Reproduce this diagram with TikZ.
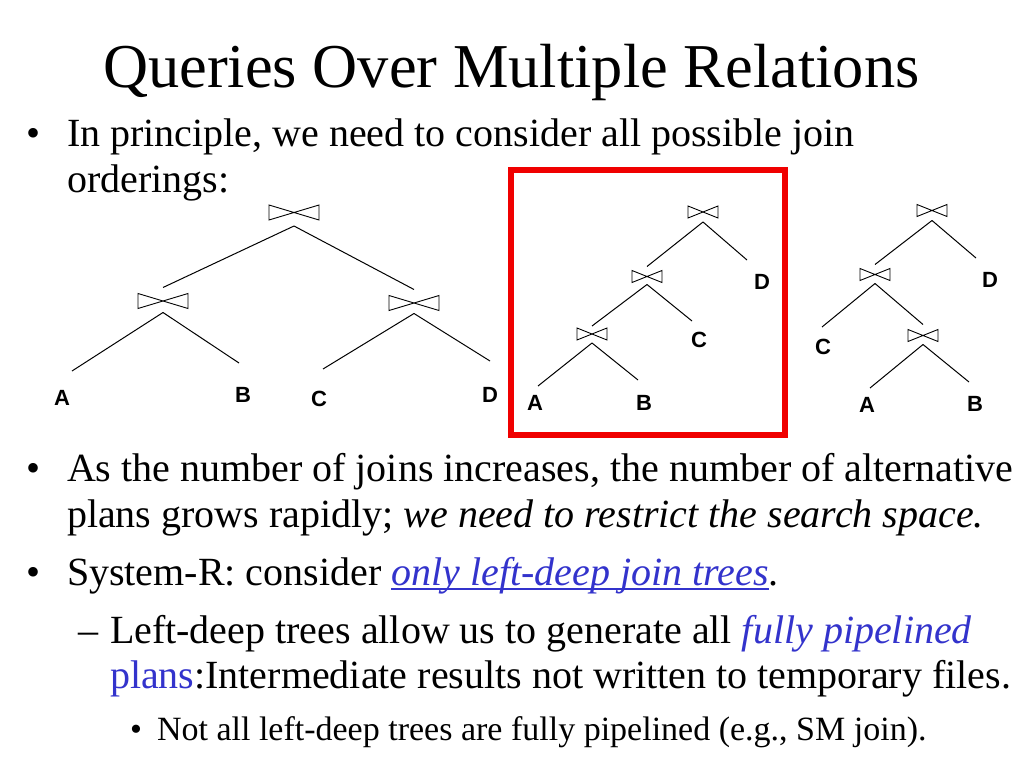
\documentclass[tikz,border=0pt]{standalone}
\usepackage{fontspec}
\setmainfont{Liberation Serif}
\newfontfamily\lblfont{Liberation Sans}
\definecolor{linkblue}{RGB}{51,51,204}
\definecolor{boxred}{RGB}{240,0,0}
\begin{document}
\begin{tikzpicture}[x=1pt,y=-1pt,
  txt/.style={anchor=base west,inner sep=0pt,outer sep=0pt,font=\fontsize{40}{48}\selectfont},
  subtxt/.style={anchor=base west,inner sep=0pt,outer sep=0pt,font=\fontsize{34}{40}\selectfont},
  bigjoin/.style={minimum width=50pt,minimum height=15pt,inner sep=0pt,outer sep=0pt},
  smalljoin/.style={minimum width=30pt,minimum height=12pt,inner sep=0pt,outer sep=0pt},
  leaf/.style={inner sep=0pt,font=\lblfont\bfseries\fontsize{22}{26}\selectfont},
  edge/.style={line width=1pt,black},
  tie/.style={line width=0.9pt,black,line join=miter}]
\useasboundingbox (0,0) rectangle (1024,768);
\fill[white] (0,0) rectangle (1024,768);

% title
\node[anchor=base west,inner sep=0pt,font=\fontsize{62.4}{70}\selectfont] (title) at (103,87) {Queries Over Multiple Relations};

% bullet 1
\node[txt] (b1) at (27,146) {•};
\node[txt] (l1) at (67,146) {In principle, we need to consider all possible join};
\node[txt] (l2) at (67,192) {orderings:};

% ---------- tree 1 (bushy) ----------
\node[bigjoin] (t1r) at (294,212.5) {};
\node[bigjoin] (t1a) at (163,301) {};
\node[bigjoin] (t1b) at (414,303) {};
\coordinate (t1A) at (72,371);
\coordinate (t1B) at (239,363);
\coordinate (t1C) at (323,369);
\coordinate (t1D) at (490,361);
\node[leaf] (A1) at (62,398) {A};
\node[leaf] (B1) at (243,395) {B};
\node[leaf] (C1) at (319,399) {C};
\node[leaf] (D1) at (490,395) {D};
\draw[edge] ([yshift=-6pt]t1r.south) -- ([yshift=6pt]t1a.north);
\draw[edge] ([yshift=-6pt]t1r.south) -- ([yshift=6pt]t1b.north);
\draw[edge] ([yshift=-4pt]t1a.south) -- (t1A);
\draw[edge] ([yshift=-4pt]t1a.south) -- (t1B);
\draw[edge] ([yshift=-3pt]t1b.south) -- (t1C);
\draw[edge] ([yshift=-3pt]t1b.south) -- (t1D);

% ---------- tree 2 (left-deep, boxed) ----------
\draw[boxred,line width=6pt] (511,170) rectangle (785,435);
\node[smalljoin] (t2r) at (703,212) {};
\node[smalljoin] (t2m) at (647,276.5) {};
\node[smalljoin] (t2l) at (592,334) {};
\coordinate (t2D) at (747,260);
\coordinate (t2C) at (692,321);
\coordinate (t2A) at (538,386);
\coordinate (t2B) at (638,380);
\node[leaf] (D2) at (762,282) {D};
\node[leaf] (C2) at (699,340) {C};
\node[leaf] (A2) at (535,403) {A};
\node[leaf] (B2) at (644,403) {B};
\draw[edge] ([yshift=-4pt]t2r.south) -- ([yshift=4pt]t2m.north);
\draw[edge] ([yshift=-4pt]t2r.south) -- (t2D);
\draw[edge] ([yshift=-2pt]t2m.south) -- ([yshift=2pt]t2l.north);
\draw[edge] ([yshift=-2pt]t2m.south) -- (t2C);
\draw[edge] ([yshift=-3pt]t2l.south) -- (t2A);
\draw[edge] ([yshift=-3pt]t2l.south) -- (t2B);

% ---------- tree 3 ----------
\node[smalljoin] (t3r) at (932,210.5) {};
\node[smalljoin] (t3m) at (875,274.5) {};
\node[smalljoin] (t3l) at (923,335.5) {};
\coordinate (t3D) at (976,258);
\coordinate (t3C) at (822,327);
\coordinate (t3A) at (870,388);
\coordinate (t3B) at (969,382);
\node[leaf] (D3) at (990,280) {D};
\node[leaf] (C3) at (823,347) {C};
\node[leaf] (A3) at (867,405) {A};
\node[leaf] (B3) at (975,404) {B};
\draw[edge] ([yshift=-4pt]t3r.south) -- ([yshift=4pt]t3m.north);
\draw[edge] ([yshift=-4pt]t3r.south) -- (t3D);
\draw[edge] ([yshift=-3pt]t3m.south) -- (t3C);
\draw[edge] ([yshift=-3pt]t3m.south) -- ([yshift=5pt]t3l.north);
\draw[edge] ([yshift=-3pt]t3l.south) -- (t3A);
\draw[edge] ([yshift=-3pt]t3l.south) -- (t3B);

% bow-tie join symbols
\foreach \j in {t1r,t1a,t1b,t2r,t2m,t2l,t3r,t3m,t3l}
  \draw[tie] (\j.north west) -- (\j.south west) -- (\j.north east) -- (\j.south east) -- cycle;

% bullet 2
\node[txt] (b2) at (27,481) {•};
\node[txt] (l3) at (67,481) {As the number of joins increases, the number of alternative};
\node[txt] (l4) at (67,527) {plans grows rapidly; \textit{we need to restrict the search space.}};

% bullet 3
\node[txt] (b3) at (27,585) {•};
\node[txt] (l5a) at (67,585) {System-R: consider\ \mbox{}};
\node[txt,text=linkblue] (l5b) at (l5a.base east) {\textit{only left-deep join trees}};
\node[txt] (l5c) at (l5b.base east) {.};
\draw[linkblue,line width=1.5pt] ([yshift=-4pt]l5b.base west) -- ([yshift=-4pt]l5b.base east);

% sub bullet
\node[txt] (d1) at (78,643) {–};
\node[txt] (l6a) at (110,643) {Left-deep trees allow us to generate all\ \mbox{}};
\node[txt,text=linkblue] (l6b) at (l6a.base east) {\textit{fully pipelined}};
\node[txt,text=linkblue] (l7a) at (110,688) {plans};
\node[txt] (l7b) at (l7a.base east) {:Intermediate results not written to temporary files.};

% sub-sub bullet
\node[subtxt] (b4) at (130,740) {•};
\node[subtxt] (l8) at (157,740) {Not all left-deep trees are fully pipelined (e.g., SM join).};
\end{tikzpicture}
\end{document}
